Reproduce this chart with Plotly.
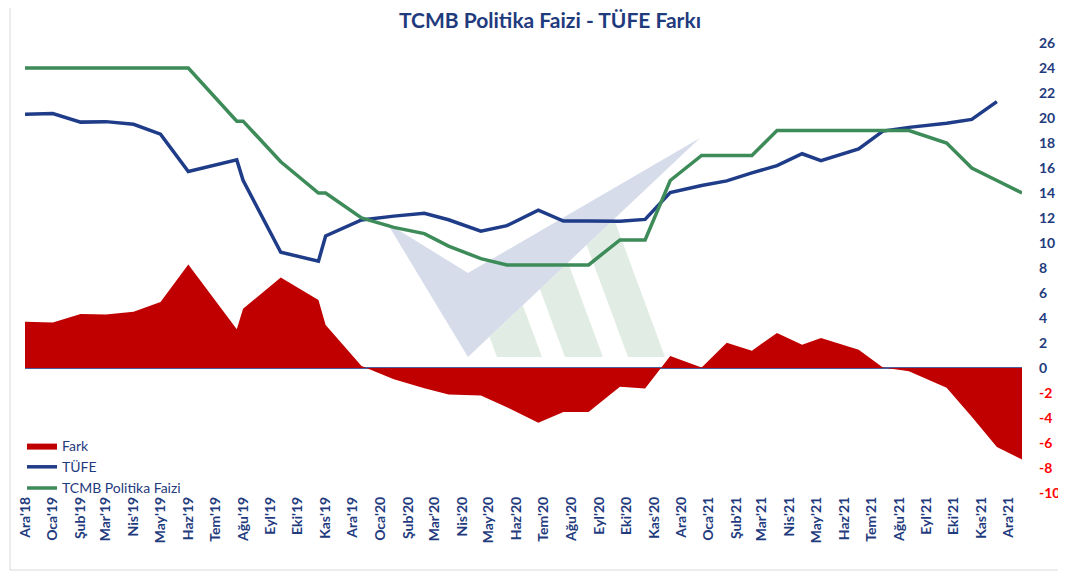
import pandas as pd
import plotly.graph_objects as go

# rate decision / month dates of the table rows
dates = ["2018-12-01", "2019-01-01", "2019-02-01", "2019-03-01", "2019-04-01",
         "2019-05-01", "2019-06-01", "2019-07-25", "2019-08-01", "2019-09-12",
         "2019-10-24", "2019-11-01", "2019-12-11", "2020-01-16", "2020-02-19",
         "2020-03-17", "2020-04-22", "2020-05-21", "2020-06-25", "2020-07-23",
         "2020-08-20", "2020-09-24", "2020-10-22", "2020-11-19", "2020-12-24",
         "2021-01-21", "2021-02-18", "2021-03-18", "2021-04-15", "2021-05-06",
         "2021-06-17", "2021-07-14", "2021-08-12", "2021-09-23", "2021-10-21",
         "2021-11-18", "2021-12-16"]

politika_faizi = [24, 24, 24, 24, 24, 24, 24, 19.75, 19.75, 16.5,
                  14, 14, 12, 11.25, 10.75, 9.75, 8.75, 8.25, 8.25, 8.25,
                  8.25, 10.25, 10.25, 15, 17, 17, 17, 19, 19, 19,
                  19, 19, 19, 18, 16, 15, 14]

tufe = [20.30, 20.35, 19.67, 19.71, 19.50, 18.71, 15.72, 16.65, 15.01, 9.26,
        8.55, 10.56, 11.84, 12.15, 12.37, 11.86, 10.94, 11.39, 12.62, 11.76,
        11.77, 11.75, 11.89, 14.03, 14.60, 14.97, 15.61, 16.19, 17.14, 16.59,
        17.53, 18.95, 19.25, 19.58, 19.89, 21.31, None]

fark = [3.70, 3.65, 4.33, 4.29, 4.50, 5.29, 8.28, 3.10, 4.74, 7.24,
        5.45, 3.44, 0.16, -0.90, -1.62, -2.11, -2.19, -3.14, -4.37, -3.51,
        -3.52, -1.50, -1.64, 0.97, 0.05, 2.03, 1.39, 2.81, 1.86, 2.41,
        1.47, 0.05, -0.25, -1.58, -3.89, -6.31, -7.31]

month_labels = ["Ara'18", "Oca'19", "Şub'19", "Mar'19", "Nis'19", "May'19", "Haz'19",
                "Tem'19", "Ağu'19", "Eyl'19", "Eki'19", "Kas'19", "Ara'19", "Oca'20",
                "Şub'20", "Mar'20", "Nis'20", "May'20", "Haz'20", "Tem'20", "Ağu'20",
                "Eyl'20", "Eki'20", "Kas'20", "Ara'20", "Oca'21", "Şub'21", "Mar'21",
                "Nis'21", "May'21", "Haz'21", "Tem'21", "Ağu'21", "Eyl'21", "Eki'21",
                "Kas'21", "Ara'21"]

NAVY = "#1F3B7E"
FONT = "Lato"
# the page body has an 8px margin, so the figure starts 8px in
W, H = 1058, 580

month_ticks = pd.date_range("2018-12-01", periods=len(month_labels), freq="MS")
y_ticks = list(range(-10, 27, 2))
y_text = [f'<span style="color:#FF0000">{v}</span>' if v < 0 else str(v) for v in y_ticks]

fig = go.Figure()

# Add traces
fig.add_trace(go.Scatter(x=dates, y=fark, name="Fark", mode="lines",
                         line=dict(width=0, color="#C00000"),
                         fill="tozeroy", fillcolor="#C00000"))
fig.add_trace(go.Scatter(x=dates, y=tufe, name="TÜFE", mode="lines",
                         line=dict(width=3.5, color="#1F3C88")))
fig.add_trace(go.Scatter(x=dates, y=politika_faizi, name="TCMB Politika Faizi", mode="lines",
                         line=dict(width=3.5, color="#3D8B58")))


def px(x, y):
    # screen position -> paper coordinates of the plot area
    return (x - 25) / 997, (493 - y) / 450


def path(points):
    pts = [px(x, y) for x, y in points]
    return "M " + " L ".join(f"{a:.4f},{b:.4f}" for a, b in pts) + " Z"


# faint watermark logo behind the lines
shapes = []
for stripe in ([(497, 357), (542, 357), (522.8, 305.2), (489.5, 336.7)],
               [(565, 357), (603, 357), (568, 262.5), (539.9, 289.1)],
               [(628, 357), (665, 357), (614, 219), (586.6, 245)]):
    shapes.append(dict(type="path", path=path(stripe), xref="paper", yref="paper",
                       fillcolor="#E1EDE4", line=dict(width=0), layer="below"))
shapes.append(dict(type="path", path=path([(387, 223), (468, 273), (700, 138), (468, 357)]),
                   xref="paper", yref="paper", fillcolor="#D6DCEA",
                   line=dict(width=0), layer="below"))

# chart area border
bx0, by0 = px(10, 570)
bx1, by1 = px(1070, 0)
shapes.append(dict(type="line", xref="paper", yref="paper", x0=bx0, x1=bx0, y0=by0, y1=by1,
                   line=dict(color="#D9D9D9", width=1)))
shapes.append(dict(type="line", xref="paper", yref="paper", x0=bx0, x1=bx1, y0=by0, y1=by0,
                   line=dict(color="#D9D9D9", width=1)))

fig.update_layout(
    width=W, height=H,
    margin=dict(l=17, r=W - 17 - 997, t=35, b=H - 35 - 450),
    paper_bgcolor="white", plot_bgcolor="rgba(0,0,0,0)",
    title=dict(text="<b>TCMB Politika Faizi - TÜFE Farkı</b>",
               font=dict(family=FONT, size=21, color=NAVY),
               xref="container", x=(550 - 8) / W, xanchor="center",
               yref="container", y=1 - (21 - 8) / H, yanchor="middle"),
    legend=dict(x=-0.003, y=0.14, xanchor="left", yanchor="top",
                bgcolor="rgba(0,0,0,0)", font=dict(family=FONT, size=14, color=NAVY),
                tracegroupgap=0),
    shapes=shapes,
    showlegend=True,
)

fig.update_xaxes(type="date", range=["2018-12-01", "2021-12-16"],
                 tickmode="array", tickvals=month_ticks, ticktext=month_labels,
                 tickangle=-90, showgrid=False, showline=False, zeroline=False,
                 ticks="", automargin=False,
                 tickfont=dict(family=FONT, size=14, color=NAVY, weight="bold"))

fig.update_yaxes(side="right", range=[-10, 26], tickmode="array",
                 tickvals=y_ticks, ticktext=y_text, showgrid=False, showline=False,
                 zeroline=True, zerolinecolor="#4A5E9A", zerolinewidth=1.5,
                 ticks="", ticklabelstandoff=16, automargin=False,
                 tickfont=dict(family=FONT, size=14, color=NAVY, weight="bold"))

fig.write_html("out.html")
